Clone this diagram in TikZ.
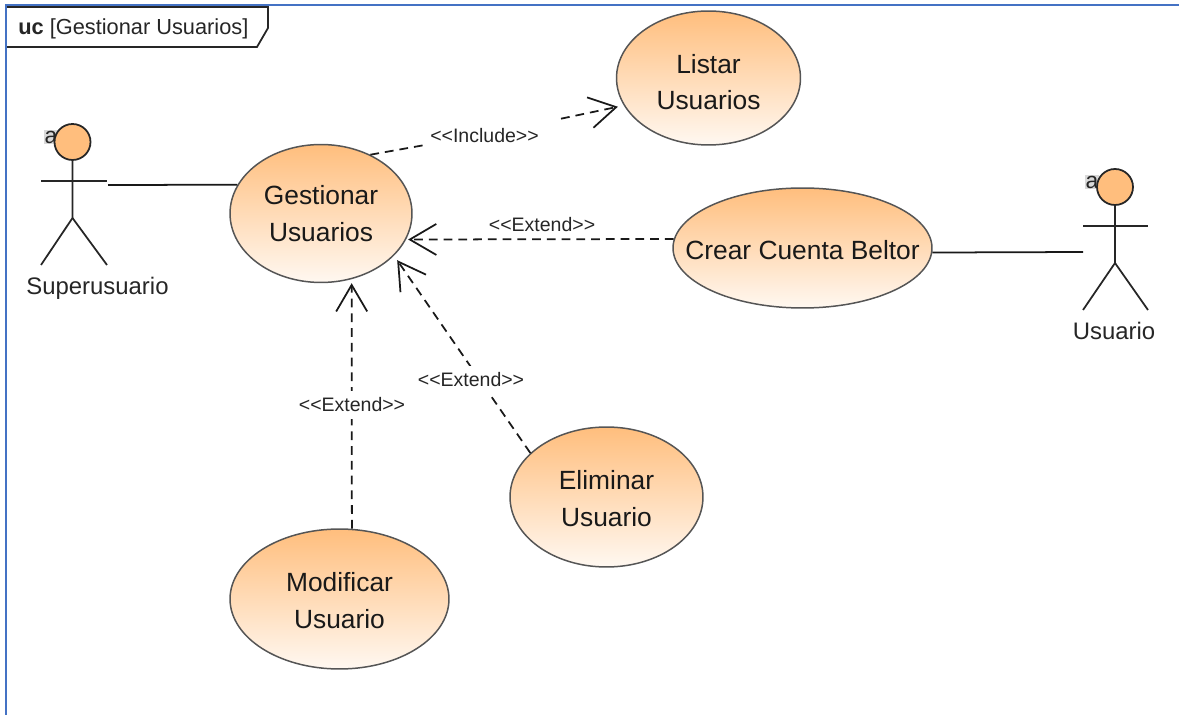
\documentclass[tikz,border=0pt]{standalone}
\usepackage{fontspec}
\setmainfont{Liberation Sans}
\usetikzlibrary{shapes.geometric, arrows.meta}
\definecolor{framecol}{HTML}{4472C4}
\definecolor{caseedge}{HTML}{555555}
\definecolor{casetop}{HTML}{FFBE7D}
\definecolor{casebot}{HTML}{FFF8F1}
\newcommand{\caseline}[2][0pt]{\makebox[0pt]{\raisebox{-#1}[\height][\depth]{#2}}}
\tikzset{
	usecase/.style={ellipse, draw=caseedge, line width=0.85pt, top color=casetop, bottom color=casebot, inner sep=0, align=center, text=black!90, font=\fontsize{15}{21}\selectfont},
	actorhead/.style={circle, draw=black!85, line width=1pt, fill=casetop, inner sep=0, minimum size=0.72cm},
	actorname/.style={inner sep=0, text=black!85, font=\fontsize{13.6}{15}\selectfont},
	actora/.style={inner sep=0.5pt, fill=black!15, text=black!85, font=\fontsize{13}{13}\selectfont},
	stereo/.style={inner xsep=1pt, inner ysep=4pt, fill=white, text=black!85, font=\fontsize{11.1}{12}\selectfont},
	limb/.style={draw=black!85, line width=1pt},
	assoc/.style={draw=black!90, line width=1pt},
	depend/.style={draw=black!90, line width=1pt, dashed, dash pattern=on 5pt off 3.4pt},
	opentip/.style={-{Straight Barb[length=0.53cm, width=0.62cm, line width=1pt]}}
}
\begin{document}
\begin{tikzpicture}[x=0.02cm, y=-0.02cm]
	\useasboundingbox (0, 0) rectangle (1179, 715);
	% frame
	\draw[framecol, line width=0.9pt] (6, 715) -- (6, 5) -- (1179, 5);
	\draw[black!85, line width=1pt, fill=white] (7, 7) -- (268, 7) -- (268, 28) -- (257, 47) -- (7, 47);
	\node[inner sep=0, anchor=west, text=black!85, font=\fontsize{12.4}{15}\selectfont] (title) at (18, 29) {\textbf{uc} [Gestionar Usuarios]};
	% use cases
	\node[usecase, minimum width=1.82*2cm, minimum height=1.38*2cm] (gestionar) at (321, 213.5) {\caseline{Gestionar}\\\caseline{Usuarios}};
	\node[usecase, minimum width=1.84*2cm, minimum height=1.34*2cm] (listar) at (708.5, 78) {\caseline[2.3pt]{Listar}\\\caseline[2.3pt]{Usuarios}};
	\node[usecase, minimum width=2.59*2cm, minimum height=1.2*2cm] (crear) at (802.5, 248) {\caseline[1.1pt]{Crear Cuenta Beltor}};
	\node[usecase, minimum width=1.93*2cm, minimum height=1.4*2cm] (eliminar) at (606.5, 497) {\caseline[1.1pt]{Eliminar}\\\caseline[1.1pt]{Usuario}};
	\node[usecase, minimum width=2.19*2cm, minimum height=1.4*2cm] (modificar) at (339.5, 599) {\caseline[1.1pt]{Modificar}\\\caseline[1.1pt]{Usuario}};
	% actor on the left
	\node[actora] (supera) at (51, 137) {a};
	\node[actorhead] (superhead) at (72.5, 142) {};
	\draw[limb] (superhead.south) -- (72.5, 218) -- (41, 265);
	\draw[limb] (72.5, 218) -- (107, 265);
	\draw[limb] (41, 181) -- (107, 181);
	\node[actorname] (supername) at (97.5, 288) {Superusuario};
	% actor on the right
	\node[actora] (usera) at (1092, 182) {a};
	\node[actorhead] (userhead) at (1115, 187) {};
	\draw[limb] (userhead.south) -- (1115, 263) -- (1083, 310);
	\draw[limb] (1115, 263) -- (1148, 310);
	\draw[limb] (1083, 226) -- (1148, 226);
	\node[actorname] (username) at (1114, 331) {Usuario};
	% associations
	\coordinate (superhand) at (108, 185);
	\coordinate (userhand) at (1083, 252);
	\draw[assoc] (superhand) -- (gestionar.161);
	\draw[assoc] (crear.-2) -- (userhand);
	% dependencies
	\coordinate (includegapa) at (425, 145);
	\coordinate (includegapb) at (561, 118.7);
	\draw[depend] (gestionar.50) -- (includegapa);
	\draw[depend, opentip, shorten >=0.12cm] (includegapb) -- (listar.198);
	\draw[depend, opentip, shorten >=0.04cm] (crear.176) -- (gestionar.-17);
	\draw[depend, opentip, shorten >=0.11cm] (eliminar.150) -- (gestionar.-30);
	\draw[depend, opentip, shorten >=0.08cm] (modificar.80) -- (gestionar.-65);
	\node[stereo] (includelabel) at (484.5, 136) {<{}<Include>{}>};
	\node[stereo, fill=none] (crearlabel) at (542, 225) {<{}<Extend>{}>};
	\node[stereo] (eliminarlabel) at (471, 380) {<{}<Extend>{}>};
	\node[stereo] (modificarlabel) at (352, 405) {<{}<Extend>{}>};
\end{tikzpicture}
\end{document}
